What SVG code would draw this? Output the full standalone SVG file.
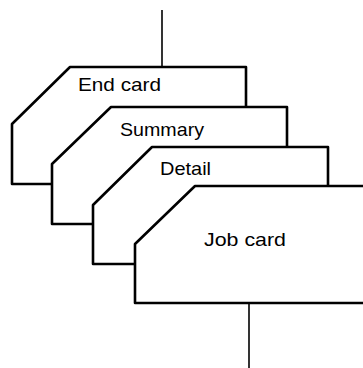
<svg xmlns="http://www.w3.org/2000/svg" width="363" height="368" viewBox="0 0 363 368">
<style>
.card{fill:#fff;stroke:#000;stroke-width:2.6;stroke-linejoin:round}
.lbl{font-family:"Liberation Sans",Arial,sans-serif;font-size:19px;fill:#000}
.conn{stroke:#000;stroke-width:1.6;fill:none}
</style>
<rect width="363" height="368" fill="#fff"/>
<g id="connectors">
<line class="conn" x1="162" y1="10" x2="162" y2="67"/>
<line class="conn" x1="249" y1="303" x2="249" y2="368"/>
</g>
<g id="end-card">
<path class="card" d="M70,67 L246,67 L246,184 L12,184 L12,124 Z"/>
<text class="lbl" x="78" y="91" textLength="83" lengthAdjust="spacingAndGlyphs">End card</text>
</g>
<g id="summary">
<path class="card" d="M111,107 L287,107 L287,224 L52,224 L52,164 Z"/>
<text class="lbl" x="120" y="136" textLength="84" lengthAdjust="spacingAndGlyphs">Summary</text>
</g>
<g id="detail">
<path class="card" d="M152,147 L328,147 L328,264 L93,264 L93,205 Z"/>
<text class="lbl" x="160" y="174.5" textLength="51" lengthAdjust="spacingAndGlyphs">Detail</text>
</g>
<g id="job-card">
<path class="card" d="M195,186 L366,186 L366,303 L135,303 L135,244 Z"/>
<text class="lbl" x="204" y="246" textLength="82" lengthAdjust="spacingAndGlyphs">Job card</text>
</g>
</svg>
